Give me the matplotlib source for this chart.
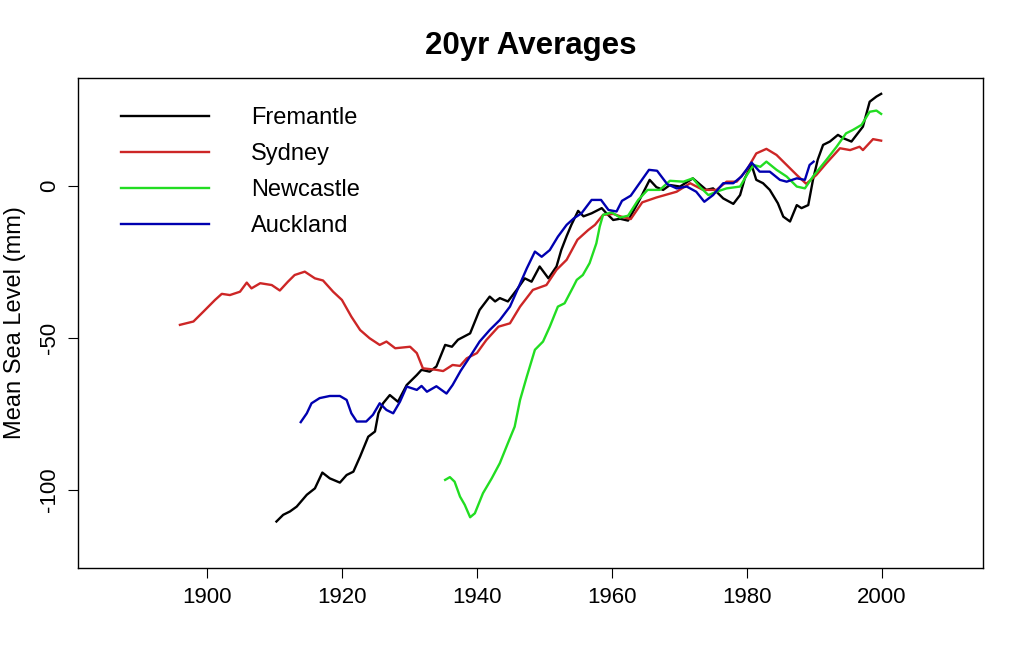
import matplotlib.pyplot as plt

plt.rcParams['font.family'] = ['Liberation Sans', 'DejaVu Sans']
plt.rcParams['axes.unicode_minus'] = False

# Fremantle (black)
fre_year = [1910.3, 1911.3, 1912.3, 1913.3, 1914.8, 1916.0, 1917.1, 1918.2, 1919.7, 1920.7,
            1921.7, 1922.7, 1923.9, 1924.9, 1925.4, 1926.1, 1927.1, 1928.3, 1929.6, 1931.1,
            1931.8, 1933.0, 1934.0, 1935.3, 1936.3, 1937.2, 1939.0, 1940.4, 1941.9, 1942.7,
            1943.4, 1944.6, 1945.9, 1947.1, 1948.1, 1949.3, 1950.6, 1951.8, 1952.5, 1953.3,
            1954.0, 1955.0, 1955.8, 1957.0, 1958.5, 1959.2, 1960.2, 1961.2, 1962.4, 1964.1,
            1965.6, 1966.6, 1967.6, 1968.6, 1970.1, 1972.0, 1974.0, 1975.0, 1976.5, 1978.0,
            1979.0, 1979.7, 1980.7, 1981.4, 1982.4, 1983.4, 1984.6, 1985.4, 1986.4, 1987.4,
            1988.1, 1989.1, 1989.8, 1990.5, 1991.3, 1992.3, 1993.5, 1994.3, 1995.5, 1997.2,
            1998.2, 1999.2, 1999.9]
fre_msl = [-110.4, -108.2, -107.1, -105.5, -101.6, -99.5, -94.3, -96.2, -97.6, -95.1,
           -94.0, -89.0, -82.5, -80.8, -74.8, -71.5, -68.8, -71.0, -65.5, -62.2,
           -60.5, -61.1, -59.4, -52.3, -52.9, -50.6, -48.5, -40.8, -36.4, -38.0,
           -36.9, -38.0, -34.2, -30.4, -31.5, -26.5, -30.4, -26.5, -21.1, -16.5,
           -12.8, -8.2, -10.0, -9.0, -7.3, -9.0, -11.2, -10.8, -11.4, -4.6,
           2.0, -0.4, -1.3, 0.3, -0.2, 2.5, -1.3, -0.8, -4.1, -5.9,
           -3.0, 2.5, 6.9, 2.0, 0.9, -1.3, -5.7, -10.1, -11.7, -6.3,
           -7.3, -6.3, 2.0, 8.6, 13.5, 14.6, 16.8, 15.7, 14.6, 19.5,
           27.7, 29.4, 30.3]

# Sydney (red)
syd_year = [1896.0, 1898.0, 1899.5, 1901.2, 1902.2, 1903.4, 1904.9, 1905.9, 1906.6, 1907.9,
            1909.6, 1910.8, 1912.0, 1913.0, 1914.5, 1916.0, 1917.2, 1918.7, 1920.0, 1921.4,
            1922.7, 1924.1, 1925.6, 1926.6, 1927.9, 1930.1, 1931.1, 1932.0, 1934.0, 1935.0,
            1936.4, 1937.5, 1938.5, 1940.0, 1941.4, 1943.2, 1944.9, 1946.4, 1948.3, 1950.3,
            1951.8, 1953.3, 1954.9, 1956.5, 1957.5, 1958.7, 1960.2, 1961.4, 1962.8, 1964.5,
            1966.6, 1969.6, 1971.6, 1973.5, 1975.5, 1977.0, 1978.5, 1980.0, 1981.4, 1982.9,
            1984.4, 1985.9, 1987.4, 1988.8, 1990.3, 1991.8, 1993.8, 1995.3, 1996.7, 1997.2,
            1998.7, 1999.9]
syd_msl = [-45.7, -44.6, -41.3, -37.5, -35.5, -35.9, -34.8, -31.8, -33.7, -32.0,
           -32.6, -34.4, -31.5, -29.3, -28.2, -30.4, -31.1, -34.8, -37.5, -43.0,
           -47.4, -50.1, -52.3, -51.2, -53.4, -52.9, -55.0, -60.0, -60.5, -60.9,
           -58.9, -59.2, -56.7, -55.0, -50.7, -46.3, -45.2, -39.7, -34.2, -32.6,
           -27.6, -24.3, -17.7, -14.5, -12.8, -9.5, -9.2, -10.1, -10.9, -5.4,
           -3.8, -1.9, 0.9, -1.3, -1.3, 1.4, 1.4, 5.3, 10.7, 12.2,
           10.2, 6.9, 3.6, 0.7, 3.6, 7.5, 12.4, 11.8, 12.9, 11.8,
           15.4, 14.9]

# Newcastle (green)
new_year = [1935.3, 1936.0, 1936.7, 1937.5, 1938.2, 1939.0, 1939.7, 1940.9, 1942.2, 1943.4,
            1944.6, 1945.6, 1946.4, 1947.4, 1948.6, 1949.8, 1950.8, 1952.0, 1953.0, 1954.3,
            1954.8, 1955.7, 1956.7, 1957.7, 1958.2, 1958.7, 1960.0, 1961.2, 1962.4, 1963.9,
            1965.3, 1967.1, 1968.6, 1970.6, 1972.0, 1973.0, 1974.3, 1975.5, 1977.0, 1979.0,
            1980.0, 1981.0, 1982.0, 1982.9, 1984.4, 1985.9, 1987.4, 1988.6, 1989.8, 1991.8,
            1993.3, 1994.7, 1995.7, 1997.0, 1998.2, 1999.2, 1999.9]
new_msl = [-96.7, -95.8, -97.3, -102.2, -104.9, -109.0, -107.7, -101.1, -96.2, -91.2,
           -84.6, -79.2, -70.4, -62.7, -53.9, -51.2, -46.3, -39.7, -38.6, -33.1,
           -30.9, -29.3, -25.4, -18.9, -13.4, -9.5, -8.7, -10.4, -9.8, -4.6,
           -1.3, -1.3, 1.7, 1.4, 2.5, -0.2, -3.0, -1.9, -0.8, -0.2,
           3.6, 6.9, 6.3, 8.0, 5.3, 3.1, -0.2, -0.8, 3.1, 8.6,
           12.9, 17.3, 18.4, 20.1, 24.4, 24.8, 23.7]

# Auckland (blue)
auk_year = [1913.9, 1914.8, 1915.5, 1916.7, 1918.2, 1919.7, 1920.7, 1921.4, 1922.2, 1923.6,
            1924.6, 1925.6, 1926.6, 1927.6, 1928.6, 1929.6, 1931.1, 1931.8, 1932.6, 1934.0,
            1935.5, 1936.4, 1937.6, 1939.0, 1940.4, 1941.9, 1943.4, 1944.9, 1946.1, 1947.4,
            1948.6, 1949.6, 1950.8, 1952.0, 1953.3, 1954.4, 1955.5, 1957.0, 1958.4, 1959.5,
            1960.7, 1961.5, 1962.8, 1964.1, 1965.5, 1966.7, 1968.2, 1969.6, 1971.1, 1972.5,
            1973.7, 1975.0, 1976.5, 1978.0, 1979.2, 1980.7, 1981.9, 1983.4, 1984.9, 1985.9,
            1987.4, 1988.6, 1989.3, 1989.9]
auk_msl = [-77.7, -74.8, -71.5, -69.8, -69.1, -69.1, -70.4, -74.8, -77.5, -77.5,
           -75.3, -71.5, -73.7, -74.8, -71.0, -66.0, -67.1, -65.8, -67.7, -65.9,
           -68.3, -65.5, -60.8, -56.1, -51.2, -47.4, -44.1, -39.7, -33.7, -27.1,
           -21.6, -23.3, -21.1, -16.7, -12.8, -10.6, -9.0, -4.6, -4.6, -7.9,
           -8.4, -4.9, -3.2, 0.9, 5.3, 5.0, 0.6, -0.8, -0.2, -1.9,
           -5.2, -3.0, 0.9, 0.9, 3.1, 7.7, 4.7, 4.7, 2.0, 1.4,
           2.5, 2.0, 6.9, 8.0]

series = [('Fremantle', fre_year, fre_msl, 'black'),
          ('Sydney', syd_year, syd_msl, '#cd2626'),
          ('Newcastle', new_year, new_msl, '#22dd22'),
          ('Auckland', auk_year, auk_msl, '#0000b0')]

fig = plt.figure(figsize=(10.24, 6.67), dpi=100)
ax = fig.add_axes([0.0762, 0.1484, 0.8838, 0.7346])

for name, yr, v, col in series:
    ax.plot(yr, v, color=col, lw=1.7, label=name)

ax.set_xlim(1880.9, 2015.0)
ax.set_ylim(-125.7, 35.5)
ax.set_xticks([1900, 1920, 1940, 1960, 1980, 2000])
ax.set_yticks([-100, -50, 0])
ax.tick_params(axis='both', direction='out', length=7, width=0.8, labelsize=16)
ax.tick_params(axis='x', pad=7)
ax.tick_params(axis='y', pad=6)
for lab in ax.get_yticklabels():
    lab.set_rotation(90)
    lab.set_va('center')
for sp in ax.spines.values():
    sp.set_linewidth(1.0)

ax.set_ylabel('Mean Sea Level (mm)', fontsize=17)
ax.yaxis.set_label_coords(-0.0577, 0.5)
ax.set_title('20yr Averages', fontsize=22.5, fontweight='bold', pad=17)

ax.legend(loc='upper left', bbox_to_anchor=(0.048, 0.940), frameon=False,
          borderpad=0, borderaxespad=0, handlelength=3.7, handletextpad=1.8,
          labelspacing=0.59, fontsize=17)

fig.savefig('out.png', dpi=100)
